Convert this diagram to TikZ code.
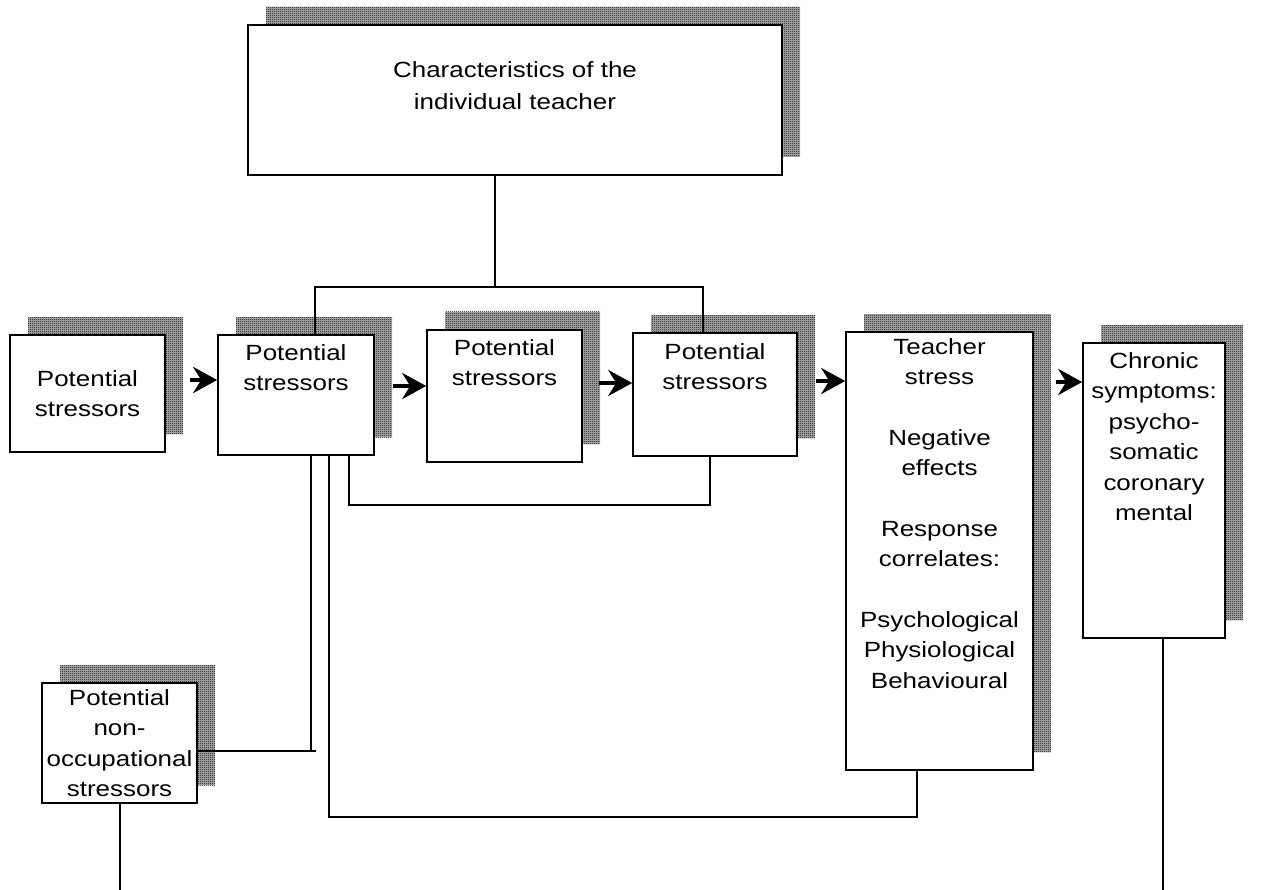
\documentclass[tikz,border=0pt]{standalone}
\usepackage{fontspec}
\setmainfont{Liberation Sans}[FakeStretch=1.18]
\usetikzlibrary{arrows.meta, positioning, calc, fit, patterns}

% fine checker for the shadows
\pgfdeclarepatternformonly{finecheck}{\pgfpointorigin}{\pgfqpoint{2pt}{2pt}}{\pgfqpoint{2pt}{2pt}}{%
  \pgfpathrectangle{\pgfpointorigin}{\pgfqpoint{1pt}{1pt}}%
  \pgfpathrectangle{\pgfqpoint{1pt}{1pt}}{\pgfqpoint{1pt}{1pt}}%
  \pgfusepath{fill}}

\tikzset{
  box/.style={draw, fill=white, line width=1.6pt, inner sep=0pt},
  boxshade/.style={pattern=finecheck, pattern color=black},
  flow/.style={line width=4pt, -{Stealth[length=24pt, width=26pt, inset=8pt]}},
  link/.style={line width=1.3pt},
  txt/.style={align=center, inner sep=0pt, font=\fontsize{22}{30.5}\selectfont},
}

% box with its shadow: name, left, top, right, bottom
\newcommand{\stressbox}[5]{%
  \fill[black!30] (#2+18,#3-18) rectangle (#4+18,#5-18);
  \fill[boxshade] (#2+18,#3-18) rectangle (#4+18,#5-18);
  \node[box, fit={(#2,#3) (#4,#5)}] (#1) {};
}

\begin{document}
\begin{tikzpicture}[x=1pt, y=-1pt]
    \useasboundingbox (0,0) rectangle (1265,890);

    % Boxes
    \stressbox{chars}{248}{25}{782}{175}
    \stressbox{ps1}{10}{335}{165}{452}
    \stressbox{ps2}{218}{335}{374}{455}
    \stressbox{ps3}{427}{330}{582}{462}
    \stressbox{ps4}{633}{333}{797}{456}
    \stressbox{stress}{846}{332}{1033}{770}
    \stressbox{chronic}{1083}{343}{1225}{638}
    \stressbox{nonocc}{42}{683}{197}{803}

    % Texts
    \node[txt, below=37pt of chars.north] (charstxt) {Characteristics of the\\[2pt]individual teacher};
    \node[txt] (ps1txt) at (ps1) {Potential\\stressors};
    \node[txt, below=10pt of ps2.north] (ps2txt) {Potential\\stressors};
    \node[txt, below=10pt of ps3.north] (ps3txt) {Potential\\stressors};
    \node[txt, below=11pt of ps4.north] (ps4txt) {Potential\\stressors};
    \node[txt, below=7pt of stress.north] (stresstxt) {Teacher\\stress\\[30pt]Negative\\effects\\[30pt]Response\\correlates:\\[30pt]Psychological\\Physiological\\Behavioural};
    \node[txt, below=10pt of chronic.north] (chronictxt) {Chronic\\symptoms:\\psycho-\\somatic\\coronary\\mental};
    \node[txt, below=7pt of nonocc.north] (nonocctxt) {Potential\\non-\\occupational\\stressors};

    % Flow arrows
    \coordinate (f1) at (0,380);
    \coordinate (f2) at (0,386);
    \coordinate (f3) at (0,383);
    \coordinate (f4) at (0,381);
    \coordinate (f5) at (0,382);
    \draw[flow] ([xshift=24pt]ps1.east |- f1) -- (ps2.west |- f1);
    \draw[flow] ([xshift=18pt]ps2.east |- f2) -- (ps3.west |- f2);
    \draw[flow] ([xshift=16pt]ps3.east |- f3) -- (ps4.west |- f3);
    \draw[flow] ([xshift=18pt]ps4.east |- f4) -- (stress.west |- f4);
    \draw[flow] ([xshift=22pt]stress.east |- f5) -- (chronic.west |- f5);

    % Links
    \coordinate (jt) at (495,287);
    \coordinate (ja) at (315,287);
    \coordinate (jb) at (703,287);
    \draw[link] (chars.south -| jt) -- (jt);
    \draw[link] (ps2.north -| ja) -- (ja) -- (jb) -- (ps4.north -| jb);

    \coordinate (ka) at (349,505);
    \coordinate (kb) at (710,505);
    \draw[link] (ps2.south -| ka) -- (ka) -- (kb) -- (ps4.south -| kb);

    \coordinate (na) at (311,751);
    \draw[link] (ps2.south -| na) -- (na);
    \draw[link] (nonocc.east |- na) -- ([xshift=5pt]na);

    \coordinate (sa) at (329,817);
    \coordinate (sb) at (917,817);
    \draw[link] (ps2.south -| sa) -- (sa) -- (sb) -- (stress.south -| sb);

    \coordinate (nb) at (120,890);
    \coordinate (cb) at (1163,890);
    \draw[link] (nonocc.south -| nb) -- (nb);
    \draw[link] (chronic.south -| cb) -- (cb);
\end{tikzpicture}
\end{document}
